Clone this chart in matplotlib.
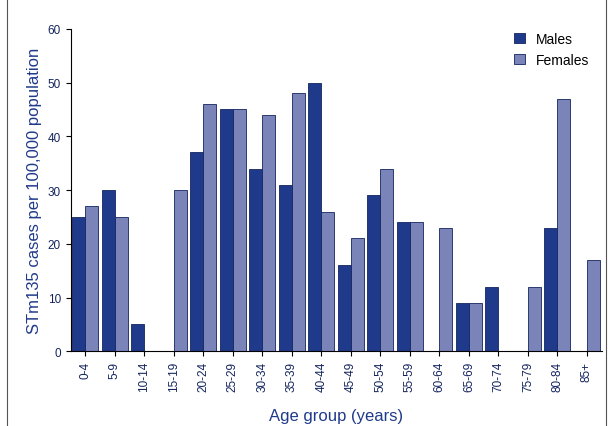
import matplotlib
matplotlib.use("Agg")
import matplotlib.pyplot as plt
import numpy as np

plt.rcParams['font.family'] = ['Liberation Sans', 'DejaVu Sans']

groups = ["0-4","5-9","10-14","15-19","20-24","25-29","30-34","35-39","40-44",
          "45-49","50-54","55-59","60-64","65-69","70-74","75-79","80-84","85+"]
males = [25,30,5,0,37,45,34,31,50,16,29,24,0,9,12,0,23,0]
females = [27,25,0,30,46,45,44,48,26,21,34,24,23,9,0,12,47,17]

fig = plt.figure(figsize=(6.14,4.27), dpi=100)
ax = fig.add_axes([0.115, 0.175, 0.865, 0.755])
x = np.arange(len(groups))
w = 0.44
ax.bar(x - w/2, males, w, color="#1f3a8a", edgecolor="#14255e", linewidth=0.6, label="Males")
ax.bar(x + w/2, females, w, color="#7a84b9", edgecolor="#14255e", linewidth=0.6, label="Females")
ax.set_xlim(-0.5, len(groups)-0.5)
ax.set_ylim(0, 60)
ax.set_yticks(range(0, 61, 10))
ax.set_xticks(x)
ax.set_xticklabels(groups, rotation=90, fontsize=8.5, color="#14255e")
ax.tick_params(axis='y', labelsize=8.5, labelcolor="#14255e")
for s in ['top', 'right']:
    ax.spines[s].set_visible(False)
ax.set_ylabel("STm135 cases per 100,000 population", color="#1f3a8a", fontsize=12)
ax.set_xlabel("Age group (years)", color="#1f3a8a", fontsize=12, labelpad=12)
ax.legend(loc="upper right", bbox_to_anchor=(1.0, 1.03), frameon=False, fontsize=10,
          handlelength=0.8, handleheight=0.8)
fig.patches.append(plt.Rectangle((0.012, -0.01), 0.975, 1.02, transform=fig.transFigure,
                                 fill=False, edgecolor="#555555", linewidth=0.8))
fig.savefig("out.png", dpi=100)
